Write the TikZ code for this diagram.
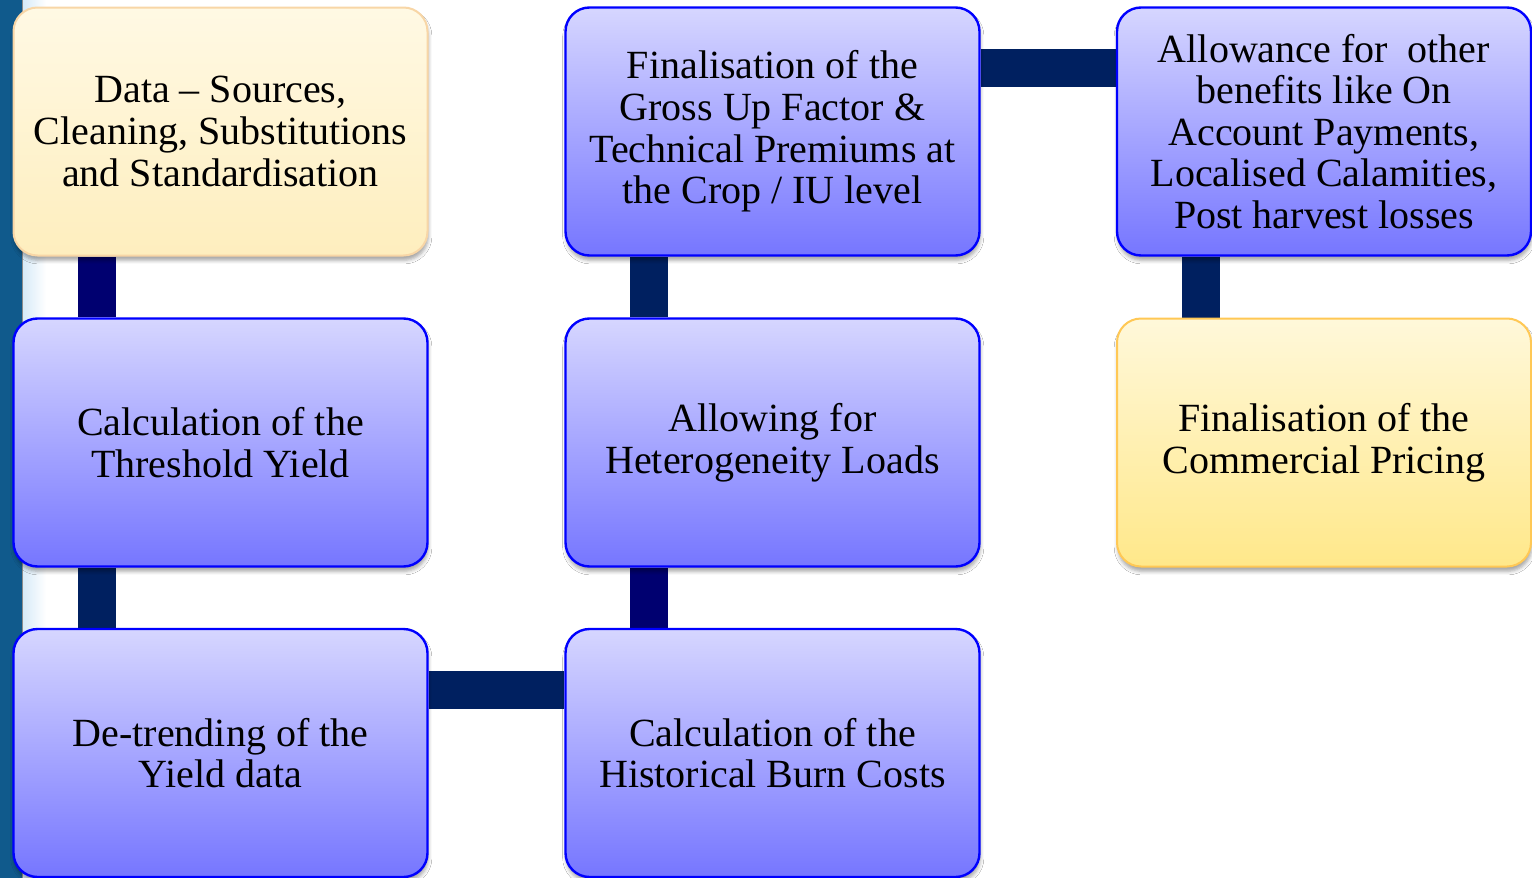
\documentclass[tikz,border=0pt]{standalone}
\usepackage{fontspec}
\setmainfont{Liberation Serif}
\usetikzlibrary{shadows.blur}
\pgfdeclarelayer{background}
\pgfsetlayers{background,main}

\definecolor{sidebar}{RGB}{16,90,140}
\definecolor{sideglow}{RGB}{214,234,248}
\definecolor{bluetop}{RGB}{214,214,255}
\definecolor{bluebot}{RGB}{118,118,255}
\definecolor{blueedge}{RGB}{0,0,255}
\definecolor{creamtop}{RGB}{255,249,228}
\definecolor{creambot}{RGB}{254,238,190}
\definecolor{creamedge}{RGB}{248,214,166}
\definecolor{goldtop}{RGB}{255,248,218}
\definecolor{goldbot}{RGB}{255,232,138}
\definecolor{goldedge}{RGB}{255,200,85}
\definecolor{navyA}{RGB}{0,0,112}
\definecolor{navyB}{RGB}{0,32,96}

\tikzset{
  box/.style={rounded corners=12pt, minimum width=207pt, minimum height=124pt,
    align=center, inner sep=0pt, font=\fontsize{20}{20.8}\selectfont,
    blur shadow={shadow xshift=0.4pt, shadow yshift=-2.4pt,
      shadow blur radius=1.8pt, shadow opacity=35}},
  bluebox/.style={box, draw=blueedge, line width=1.2pt,
    top color=bluetop, bottom color=bluebot},
  creambox/.style={box, draw=creamedge, line width=1pt,
    top color=creamtop, bottom color=creambot},
  goldbox/.style={box, draw=goldedge, line width=1pt,
    top color=goldtop, bottom color=goldbot},
  bar/.style={line width=19pt}
}

\begin{document}
\begin{tikzpicture}[x=0.5pt,y=-0.5pt]
\useasboundingbox (0,0) rectangle (1532,878);

% process steps
\node[creambox] (data)  at (220.5,131.5) {Data -- Sources,\\Cleaning, Substitutions\\and Standardisation};
\node[bluebox]  (thr)   at (220.5,442.5) {Calculation of the\\Threshold Yield};
\node[bluebox]  (det)   at (220.5,753)   {De-trending of the\\Yield data};
\node[bluebox]  (hist)  at (772.5,753)   {Calculation of the\\Historical Burn Costs};
\node[bluebox]  (allow) at (772.5,442.5) {Allowing for\\Heterogeneity Loads};
\node[bluebox]  (gross) at (772.5,131.5) {Finalisation of the\\Gross Up Factor \&\\Technical Premiums at\\the Crop / IU level};
\node[bluebox]  (other) at (1324,131.5)  {Allowance for~ other\\benefits like On\\Account Payments,\\Localised Calamities,\\Post harvest losses};
\node[goldbox]  (comm)  at (1324,442.5)  {Finalisation of the\\Commercial Pricing};

\begin{pgfonlayer}{background}
  \fill[white] (0,0) rectangle (1532,878);
  % side band on the left edge
  \fill[sidebar] (0,0) rectangle (22,878);
  \shade[left color=sideglow, right color=white] (22,0) rectangle (46,878);
  \draw[black!45, line width=0.6pt] (22.5,0) -- (22.5,878);

  % connecting bars
  \draw[bar, navyA] ([xshift=-61.75pt]data.south) -- ([xshift=-61.75pt]thr.north);
  \draw[bar, navyB] ([xshift=-61.75pt]thr.south) -- ([xshift=-61.75pt]det.north);
  \draw[bar, navyB] ([yshift=31.5pt]det.east) -- ([yshift=31.5pt]hist.west);
  \draw[bar, navyA] ([xshift=-61.75pt]hist.north) -- ([xshift=-61.75pt]allow.south);
  \draw[bar, navyB] ([xshift=-61.75pt]allow.north) -- ([xshift=-61.75pt]gross.south);
  \draw[bar, navyB] ([yshift=31.75pt]gross.east) -- ([yshift=31.75pt]other.west);
  \draw[bar, navyB] ([xshift=-61.5pt]other.south) -- ([xshift=-61.5pt]comm.north);
\end{pgfonlayer}
\end{tikzpicture}
\end{document}
